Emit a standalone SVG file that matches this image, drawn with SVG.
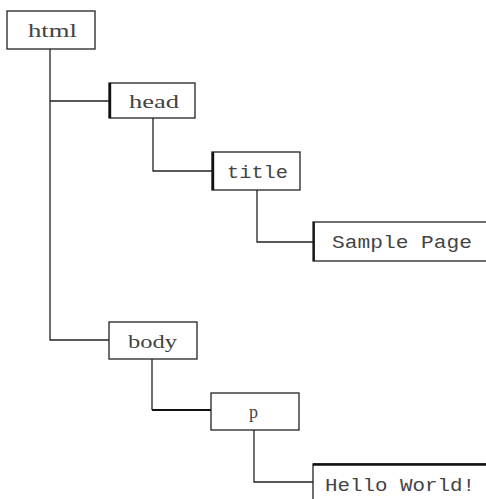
<svg xmlns="http://www.w3.org/2000/svg" width="486" height="499" viewBox="0 0 486 499">
<style>
.box{fill:#fff;stroke:#222;stroke-width:1.3}
.thick{stroke:#111;stroke-width:2.4;fill:none}
.conn{stroke:#222;stroke-width:1.3;fill:none}
.serif{font-family:"Liberation Serif",serif;font-size:18px;fill:#444}
.mono{font-family:"Liberation Mono",monospace;font-size:18px;fill:#444}
</style>
<rect x="0" y="0" width="486" height="499" fill="#fff"/>
<g id="connectors">
<path class="conn" d="M50,49 V340 H109 M50,101 H109"/>
<path class="conn" d="M153,118 V171 H212"/>
<path class="conn" d="M257,190 V242 H313"/>
<path class="conn" d="M152,359 V410"/>
<path class="thick" d="M152,410 H211" style="stroke-width:2"/>
<path class="conn" d="M254,430 V482 H313"/>
</g>
<g id="html"><rect class="box" x="7" y="11" width="88" height="38"/><text class="serif" x="28" y="37" textLength="49" lengthAdjust="spacingAndGlyphs">html</text></g>
<g id="head"><rect class="box" x="109" y="83" width="86" height="35"/><path class="thick" d="M110,83 V118"/><text class="serif" x="129" y="108" textLength="50" lengthAdjust="spacingAndGlyphs">head</text></g>
<g id="title"><rect class="box" x="212" y="152" width="88" height="38"/><path class="thick" d="M213,152 V190"/><text class="mono" x="227" y="178" textLength="61" lengthAdjust="spacingAndGlyphs">title</text></g>
<g id="sample"><rect class="box" x="313" y="222" width="180" height="39"/><path class="thick" d="M314,222 V261" style="stroke-width:1.8"/><text class="mono" x="332" y="248" textLength="140" lengthAdjust="spacingAndGlyphs">Sample Page</text></g>
<g id="body"><rect class="box" x="109" y="322" width="88" height="37"/><text class="serif" x="128" y="348" textLength="49" lengthAdjust="spacingAndGlyphs">body</text></g>
<g id="p"><rect class="box" x="211" y="393" width="88" height="37"/><text class="serif" x="249" y="418" font-size="21">p</text></g>
<g id="hello"><rect class="box" x="313" y="464" width="180" height="45"/><path class="thick" d="M313,464.5 H486"/><text class="mono" x="325" y="491" textLength="150" lengthAdjust="spacingAndGlyphs">Hello World!</text></g>
</svg>
